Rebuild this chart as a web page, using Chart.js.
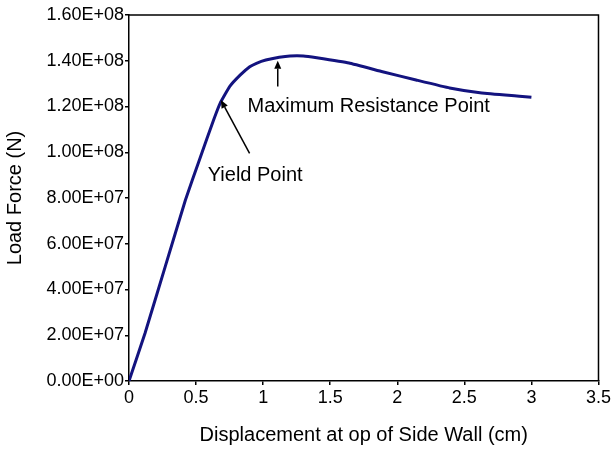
<!DOCTYPE html>
<html>
<head>
<meta charset="utf-8">
<script src="https://cdn.jsdelivr.net/npm/chart.js@4/dist/chart.umd.min.js"></script>
<style>
  html, body { margin: 0; padding: 0; background: #fff; }
  #wrap { width: 613px; height: 451px; }
</style>
</head>
<body>
<div id="wrap"><canvas id="line-chart" width="613" height="451"></canvas></div>
<script>
// displacement at top of side wall (cm) and load force (N)
let displacement = [0, 0.12, 0.27, 0.42, 0.53, 0.63, 0.68, 0.75, 0.83, 0.90, 0.95, 1.02, 1.12, 1.20, 1.30, 1.40, 1.64, 1.89, 2.14, 2.39, 2.63, 2.91, 3.0];
let loadForce = [0, 2.1e7, 5.0e7, 7.9e7, 9.75e7, 1.14e8, 1.215e8, 1.287e8, 1.338e8, 1.374e8, 1.389e8, 1.403e8, 1.415e8, 1.421e8, 1.421e8, 1.413e8, 1.39e8, 1.352e8, 1.316e8, 1.281e8, 1.259e8, 1.245e8, 1.24e8];
let xTicks = [0, 0.5, 1, 1.5, 2, 2.5, 3, 3.5];
let yTicks = [0, 2e7, 4e7, 6e7, 8e7, 1e8, 1.2e8, 1.4e8, 1.6e8];

let xTitle = 'Displacement at op of Side Wall (cm)';
let yTitle = 'Load Force (N)';

// callouts, in data units
let notes = [
    {text: 'Maximum Resistance Point', x: 0.884, y: 1.198e8, from: [1.109, 1.287e8], to: [1.109, 1.400e8]},
    {text: 'Yield Point', x: 0.587, y: 9.0e7, from: [0.899, 9.95e7], to: [0.685, 1.228e8]}
];

function sci(v) {
    let parts = Number(v).toExponential(2).toUpperCase().split('E');
    let exp = parseInt(parts[1], 10);
    let sign = exp < 0 ? '-' : '+';
    let digits = String(Math.abs(exp)).padStart(2, '0');
    return parts[0] + 'E' + sign + digits;
}

const FONT = 'Liberation Sans, Arial, sans-serif';

const boxAndNotes = {
    id: 'boxAndNotes',
    afterDraw(chart) {
        let ctx = chart.ctx;
        let a = chart.chartArea;
        let xs = chart.scales.x, ys = chart.scales.y;
        ctx.save();
        ctx.strokeStyle = '#000';
        ctx.lineWidth = 1.5;
        ctx.beginPath();
        ctx.moveTo(a.left, a.top);
        ctx.lineTo(a.right, a.top);
        ctx.lineTo(a.right, a.bottom);
        ctx.stroke();

        ctx.fillStyle = '#000';
        ctx.font = '20px ' + FONT;
        ctx.textBaseline = 'middle';
        ctx.textAlign = 'left';
        notes.forEach(n => {
            ctx.fillText(n.text, xs.getPixelForValue(n.x), ys.getPixelForValue(n.y));
            let x1 = xs.getPixelForValue(n.from[0]), y1 = ys.getPixelForValue(n.from[1]);
            let x2 = xs.getPixelForValue(n.to[0]), y2 = ys.getPixelForValue(n.to[1]);
            let ang = Math.atan2(y2 - y1, x2 - x1);
            let head = 8, half = 3.5;
            let bx = x2 - head * Math.cos(ang), by = y2 - head * Math.sin(ang);
            ctx.lineWidth = 1.5;
            ctx.beginPath();
            ctx.moveTo(x1, y1);
            ctx.lineTo(bx, by);
            ctx.stroke();
            ctx.beginPath();
            ctx.moveTo(x2, y2);
            ctx.lineTo(bx - half * Math.sin(ang), by + half * Math.cos(ang));
            ctx.lineTo(bx + half * Math.sin(ang), by - half * Math.cos(ang));
            ctx.closePath();
            ctx.fill();
        });
        ctx.restore();
    }
};

function drawChart(canvasId) {
    let chart_ele = document.getElementById(canvasId).getContext('2d');
    let points = displacement.map((d, i) => ({x: d, y: loadForce[i]}));

    new Chart(chart_ele, {
        type: 'line',
        data: {
            datasets: [{
                data: points,
                borderColor: '#13137f',
                borderWidth: 3,
                pointRadius: 0,
                tension: 0.1,
                fill: false
            }]
        },
        options: {
            responsive: false,
            animation: false,
            layout: {padding: {left: 0, top: 15, right: 13, bottom: 0}},
            plugins: {legend: {display: false}, tooltip: {enabled: false}},
            scales: {
                x: {
                    type: 'linear',
                    min: 0,
                    max: 3.5,
                    afterBuildTicks: s => { s.ticks = xTicks.map(v => ({value: v})); },
                    afterFit: s => { s.height = 70; },
                    ticks: {
                        color: '#000',
                        font: {family: FONT, size: 18},
                        padding: 2,
                        maxRotation: 0,
                        callback: v => String(v)
                    },
                    grid: {drawOnChartArea: false, drawTicks: true, tickLength: 4, color: '#000', lineWidth: 1.5},
                    border: {display: true, color: '#000', width: 1.5},
                    title: {display: true, text: xTitle, color: '#000', font: {family: FONT, size: 20}, padding: {top: 4, bottom: 4}}
                },
                y: {
                    min: 0,
                    max: 1.6e8,
                    afterBuildTicks: s => { s.ticks = yTicks.map(v => ({value: v})); },
                    afterFit: s => { s.width = 129; },
                    ticks: {
                        color: '#000',
                        font: {family: FONT, size: 18},
                        padding: 1,
                        callback: v => sci(v)
                    },
                    grid: {drawOnChartArea: false, drawTicks: true, tickLength: 4, color: '#000', lineWidth: 1.5},
                    border: {display: true, color: '#000', width: 1.5},
                    title: {display: true, text: yTitle, color: '#000', font: {family: FONT, size: 20}, padding: {top: 3, bottom: 3}}
                }
            }
        },
        plugins: [boxAndNotes]
    });
}

drawChart('line-chart');
</script>
</body>
</html>
